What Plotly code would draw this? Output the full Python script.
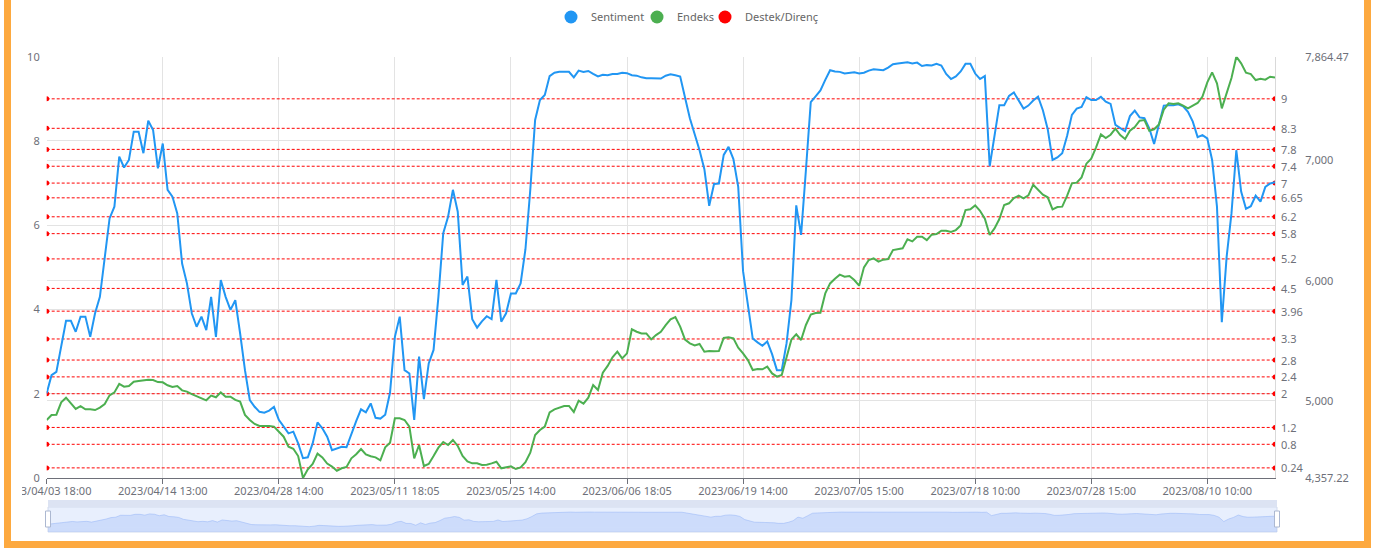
import plotly.graph_objects as go

W, H = 1381, 550

# ---------------- data ----------------
x_labels = ["2023/04/03 18:00", "2023/04/14 13:00", "2023/04/28 14:00", "2023/05/11 18:05",
            "2023/05/25 14:00", "2023/06/06 18:05", "2023/06/19 14:00", "2023/07/05 15:00",
            "2023/07/18 10:00", "2023/07/28 15:00", "2023/08/10 10:00"]
label_step = 24

sentiment = [
    2.01, 2.44, 2.52, 3.16, 3.73, 3.73, 3.47, 3.83, 3.83, 3.35,
    3.91, 4.30, 5.25, 6.16, 6.44, 7.63, 7.37, 7.55, 8.22, 8.22,
    7.71, 8.48, 8.26, 7.35, 7.94, 6.84, 6.68, 6.28, 5.09, 4.62,
    3.91, 3.59, 3.83, 3.51, 4.30, 3.35, 4.70, 4.30, 3.99, 4.22,
    3.43, 2.56, 1.85, 1.69, 1.57, 1.55, 1.60, 1.69, 1.38, 1.22,
    1.06, 1.10, 0.82, 0.47, 0.49, 0.82, 1.32, 1.18, 0.98, 0.66,
    0.70, 0.74, 0.73, 1.06, 1.35, 1.63, 1.56, 1.77, 1.43, 1.41,
    1.50, 2.03, 3.35, 3.83, 2.56, 2.48, 1.38, 2.88, 1.87, 2.72,
    3.04, 4.30, 5.81, 6.20, 6.84, 6.32, 4.58, 4.78, 3.77, 3.57,
    3.72, 3.84, 3.77, 4.70, 3.71, 3.91, 4.38, 4.38, 4.62, 5.43,
    6.84, 8.50, 8.97, 9.09, 9.54, 9.62, 9.64, 9.64, 9.64, 9.51,
    9.67, 9.64, 9.66, 9.59, 9.53, 9.57, 9.56, 9.59, 9.59, 9.62,
    9.61, 9.56, 9.55, 9.51, 9.49, 9.49, 9.49, 9.48, 9.55, 9.58,
    9.56, 9.53, 9.03, 8.54, 8.16, 7.78, 7.33, 6.46, 6.98, 6.99,
    7.67, 7.86, 7.57, 6.91, 4.91, 4.15, 3.31, 3.22, 3.14, 3.24,
    2.94, 2.56, 2.56, 3.20, 4.22, 6.47, 5.77, 7.31, 8.92, 9.06,
    9.20, 9.45, 9.68, 9.65, 9.64, 9.60, 9.62, 9.63, 9.60, 9.62,
    9.67, 9.70, 9.69, 9.68, 9.74, 9.82, 9.84, 9.86, 9.87, 9.84,
    9.86, 9.78, 9.80, 9.79, 9.83, 9.79, 9.59, 9.47, 9.53, 9.65,
    9.83, 9.83, 9.60, 9.47, 9.54, 7.40, 8.18, 8.85, 8.85, 9.07,
    9.15, 8.96, 8.77, 8.84, 8.96, 9.05, 8.73, 8.28, 7.55, 7.61,
    7.71, 8.12, 8.62, 8.77, 8.81, 9.04, 8.97, 8.97, 9.05, 8.93,
    8.88, 8.38, 8.30, 8.23, 8.59, 8.72, 8.56, 8.54, 8.30, 7.93,
    8.39, 8.84, 8.85, 8.85, 8.87, 8.82, 8.69, 8.46, 8.09, 8.14,
    8.06, 7.55, 6.44, 3.70, 5.25, 6.28, 7.78, 6.80, 6.39, 6.45,
    6.70, 6.56, 6.91, 6.99, 7.02,
]

endeks = [
    4840, 4882, 4884, 4987, 5026, 4979, 4932, 4956, 4929, 4929,
    4923, 4943, 4973, 5045, 5070, 5140, 5117, 5123, 5159, 5165,
    5173, 5176, 5173, 5156, 5154, 5129, 5115, 5123, 5087, 5076,
    5056, 5040, 5020, 5004, 5043, 5029, 5070, 5034, 5034, 5007,
    4993, 4882, 4840, 4807, 4790, 4793, 4790, 4785, 4740, 4701,
    4618, 4601, 4540, 4357.22, 4429, 4474, 4560, 4529, 4477, 4452,
    4418, 4438, 4449, 4521, 4555, 4599, 4554, 4538, 4529, 4504,
    4613, 4651, 4854, 4854, 4840, 4785, 4521, 4632, 4457, 4474,
    4540, 4610, 4657, 4632, 4674, 4624, 4540, 4496, 4479, 4479,
    4465, 4468, 4479, 4493, 4438, 4446, 4454, 4432, 4446, 4488,
    4568, 4715, 4757, 4785, 4904, 4929, 4943, 4957, 4957, 4907,
    5001, 4976, 5026, 5131, 5090, 5234, 5290, 5362, 5409, 5353,
    5395, 5595, 5575, 5561, 5561, 5511, 5547, 5574, 5630, 5678,
    5697, 5617, 5509, 5478, 5461, 5473, 5409, 5414, 5412, 5414,
    5523, 5528, 5520, 5442, 5395, 5339, 5256, 5265, 5262, 5284,
    5228, 5201, 5215, 5353, 5511, 5553, 5506, 5631, 5717, 5731,
    5733, 5894, 5977, 6016, 6050, 6033, 6039, 6005, 5958, 6111,
    6172, 6186, 6158, 6175, 6180, 6255, 6263, 6269, 6344, 6327,
    6366, 6366, 6338, 6383, 6388, 6416, 6416, 6405, 6421, 6460,
    6588, 6595, 6627, 6582, 6516, 6380, 6435, 6513, 6630, 6644,
    6688, 6707, 6685, 6710, 6799, 6755, 6716, 6694, 6594, 6613,
    6616, 6705, 6810, 6816, 6860, 6974, 7015, 7110, 7218, 7187,
    7215, 7265, 7212, 7179, 7248, 7279, 7332, 7337, 7248, 7260,
    7301, 7423, 7476, 7470, 7476, 7457, 7434, 7457, 7479, 7532,
    7651, 7734, 7642, 7434, 7565, 7687, 7864.47, 7809, 7731, 7720,
    7670, 7681, 7673, 7698, 7692,
]

levels = [9, 8.3, 7.8, 7.4, 7, 6.65, 6.2, 5.8, 5.2, 4.5, 3.96, 3.3, 2.8, 2.4, 2, 1.2, 0.8, 0.24]

endeks_min, endeks_max = 4357.22, 7864.47
endeks_ticks = [4357.22, 5000, 6000, 7000, 7864.47]
endeks_ticktext = ["4,357.22", "5,000", "6,000", "7,000", "7,864.47"]
sentiment_ticks = [0, 2, 4, 6, 8, 10]

# ---------------- helpers (pixel -> paper) ----------------
def fx(p):
    return p / W

def fy(p):
    return 1 - p / H

PL, PR, PT, PB = 46.7, 1275, 56.7, 478
SL, SR, ST, SB = 48, 1277, 507, 532

BLUE = "#2196F3"
GREEN = "#4CAF50"
RED = "#FF0000"
GRID = "#E3E3E3"
TXT = "#6E7079"
FONT = "Noto Sans"

n = len(sentiment)
idx = list(range(n))

fig = go.Figure()

# support / resistance lines
for lv in levels:
    fig.add_trace(go.Scatter(
        x=[idx[0], idx[-1]], y=[lv, lv], mode="lines+markers",
        line=dict(color=RED, width=1, dash="3px,2px"),
        marker=dict(size=5, color=RED),
        showlegend=False, hoverinfo="skip", xaxis="x", yaxis="y"))

fig.add_trace(go.Scatter(x=idx, y=sentiment, mode="lines", name="Sentiment",
                         line=dict(color=BLUE, width=2), showlegend=False,
                         xaxis="x", yaxis="y"))
fig.add_trace(go.Scatter(x=idx, y=endeks, mode="lines", name="Endeks",
                         line=dict(color=GREEN, width=2), showlegend=False,
                         xaxis="x", yaxis="y2"))

# data zoom shadow
fig.add_trace(go.Scatter(x=idx, y=sentiment, mode="lines", fill="tozeroy",
                         fillcolor="rgba(143,176,247,0.30)",
                         line=dict(color="rgba(143,176,247,0.8)", width=0.6),
                         showlegend=False, hoverinfo="skip", xaxis="x2", yaxis="y3"))

# legend entries (circle icons)
legend_items = [("Sentiment", BLUE, 41), ("Endeks", GREEN, 23), ("Destek/Direnç", RED, 80)]
for name, col, lw in legend_items:
    fig.add_trace(go.Scatter(x=[None], y=[None], mode="markers", name=name,
                             marker=dict(size=13, color=col), legendwidth=lw,
                             xaxis="x", yaxis="y"))

annotations = []
for lv in levels:
    annotations.append(dict(x=idx[-1], y=lv, xref="x", yref="y", text=f"{lv:g}",
                            showarrow=False, xanchor="left", yanchor="middle", xshift=4,
                            font=dict(family=FONT, size=11, color=TXT)))

shapes = []
# slider body
shapes.append(dict(type="rect", xref="paper", yref="paper", x0=fx(SL), x1=fx(SR), y0=fy(SB), y1=fy(ST),
                   fillcolor="#E8EFFD", line=dict(color="#D2DBEE", width=1), layer="below"))
shapes.append(dict(type="rect", xref="x2", yref="y3", x0=idx[0], x1=idx[-1], y0=-2.85, y1=0,
                   fillcolor="rgba(143,176,247,0.30)", line=dict(width=0), layer="below"))
# move handle strip
shapes.append(dict(type="rect", xref="paper", yref="paper", x0=fx(SL), x1=fx(SR), y0=fy(ST), y1=fy(ST - 7),
                   fillcolor="#DCE3F3", line=dict(width=0), layer="above"))
# handles
for hx in (SL, SR):
    shapes.append(dict(type="rect", xref="paper", yref="paper", x0=fx(hx - 2.5), x1=fx(hx + 2.5),
                       y0=fy(SB - 5), y1=fy(ST + 4), fillcolor="#FFFFFF",
                       line=dict(color="#ACB8D1", width=1), layer="above"))
# clip of first label
shapes.append(dict(type="rect", xref="paper", yref="paper", x0=0, x1=fx(22), y0=fy(500), y1=fy(479),
                   fillcolor="#FFFFFF", line=dict(width=0), layer="above"))
# orange frame
ORANGE = "#FDA93F"
shapes.append(dict(type="rect", xref="paper", yref="paper", x0=fx(4), x1=fx(11), y0=fy(548), y1=1,
                   fillcolor=ORANGE, line=dict(width=0), layer="above"))
shapes.append(dict(type="rect", xref="paper", yref="paper", x0=fx(1364), x1=fx(1371), y0=fy(548), y1=1,
                   fillcolor=ORANGE, line=dict(width=0), layer="above"))
shapes.append(dict(type="rect", xref="paper", yref="paper", x0=fx(4), x1=fx(1371), y0=fy(548), y1=fy(541),
                   fillcolor=ORANGE, line=dict(width=0), layer="above"))

fig.update_layout(
    width=W, height=H, margin=dict(l=0, r=0, t=0, b=0, autoexpand=False),
    paper_bgcolor="white", plot_bgcolor="white",
    font=dict(family=FONT, size=11, color=TXT),
    showlegend=True,
    legend=dict(orientation="h", x=0.5, xanchor="center", y=fy(17), yanchor="middle",
                font=dict(family=FONT, size=11, color="#666"), itemsizing="trace",
                bgcolor="rgba(0,0,0,0)", entrywidthmode="pixels"),
    xaxis=dict(domain=[fx(PL), fx(PR)], range=[idx[0], idx[-1]], anchor="y", automargin=False,
               tickmode="array", tickvals=[i * label_step for i in range(len(x_labels))],
               ticktext=x_labels, showgrid=True, gridcolor=GRID, gridwidth=1,
               showline=True, linecolor=TXT, linewidth=1, ticks="outside", ticklen=5,
               tickcolor=TXT, zeroline=False, ticklabelstandoff=-2,
               tickfont=dict(size=11, color=TXT)),
    yaxis=dict(domain=[fy(PB), fy(PT)], range=[0, 10], anchor="x", automargin=False,
               tickmode="array", tickvals=sentiment_ticks, showgrid=True, gridcolor=GRID,
               zeroline=False, showline=False, ticks="", ticklabelstandoff=6,
               tickfont=dict(size=11, color=TXT)),
    yaxis2=dict(overlaying="y", side="right", anchor="x", range=[endeks_min, endeks_max],
                automargin=False,
                tickmode="array", tickvals=endeks_ticks, ticktext=endeks_ticktext,
                showgrid=True, gridcolor=GRID, zeroline=False, showline=True,
                linecolor="#D9D9D9", ticks="", ticklabelstandoff=27,
                tickfont=dict(size=11, color=TXT)),
    xaxis2=dict(domain=[fx(SL), fx(SR)], range=[idx[0], idx[-1]], anchor="y3", visible=False),
    yaxis3=dict(domain=[fy(SB), fy(ST)], range=[-2.85, 12.8], anchor="x2", visible=False),
    shapes=shapes, annotations=annotations,
)

fig.write_html("out.html", config={"displayModeBar": False},
               post_script="document.body.style.margin='0';")
